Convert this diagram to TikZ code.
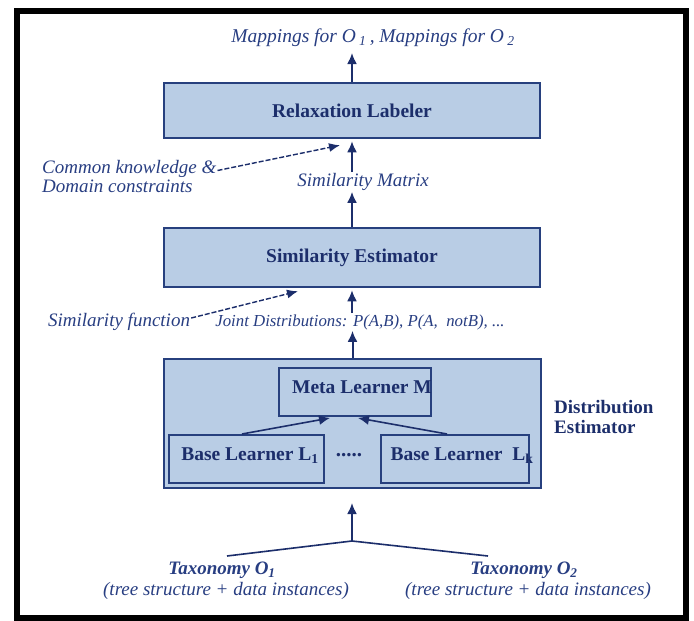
\documentclass[tikz,border=0pt]{standalone}
\usepackage{fontspec}
\setmainfont{Liberation Serif}
\usetikzlibrary{arrows.meta}
\definecolor{navy}{RGB}{28,46,107}
\definecolor{itnavy}{RGB}{40,62,130}
\definecolor{boxfill}{RGB}{185,205,229}
\definecolor{boxline}{RGB}{39,64,126}
\begin{document}
\begin{tikzpicture}[x=1pt,y=-1pt,
  bigbox/.style={draw=boxline, line width=2.5pt, fill=boxfill, inner sep=0pt},
  smallbox/.style={draw=boxline, line width=2pt, fill=boxfill, inner sep=0pt},
  blabel/.style={text=navy, font=\fontsize{19.5}{21}\selectfont\bfseries, inner sep=0pt},
  ilabel/.style={text=itnavy, font=\fontsize{19}{19}\selectfont\itshape, inner sep=1pt},
  tlabel/.style={text=itnavy, font=\fontsize{19}{19}\selectfont\itshape, inner sep=0pt},
  arr/.style={draw=navy, line width=2pt, -{Latex[length=11pt,width=10pt]}},
  darr/.style={draw=navy, line width=1.4pt, dash pattern=on 5pt off 2pt, -{Latex[length=11pt,width=9pt]}},
  plainline/.style={draw=navy, line width=1.6pt}]
\useasboundingbox (0,0) rectangle (694,621);
\fill[white] (0,0) rectangle (694,621);
% frame
\draw[black, line width=6pt] (16.5,11) rectangle (686,618);

% top output
\node[ilabel, font=\fontsize{19.5}{19.5}\selectfont\itshape] (map) at (373,38) {Mappings for O\,\textsubscript{1}\,, Mappings for O\,\textsubscript{2}};
\coordinate (mapin) at (352,53);

% relaxation labeler
\node[bigbox, minimum width=376pt, minimum height=55pt] (relax) at (352,110.5) {};
\node[blabel] (relaxT) at (352,111) {Relaxation Labeler};
\draw[arr] (relax.north) -- (mapin);

% common knowledge
\node[ilabel, align=left, anchor=west] (ck) at (41,176.5) {Common knowledge \&\\Domain constraints};
\draw[darr] ([yshift=6pt]ck.east) -- ([xshift=-12pt,yshift=-6pt]relax.south);

% similarity matrix
\node[ilabel] (sm) at (363,182) {Similarity Matrix};
\draw[arr] (sm.north -| relax.south) -- ([yshift=-2pt]relax.south);

% similarity estimator
\node[bigbox, minimum width=376pt, minimum height=59pt] (simest) at (352,257.5) {};
\node[blabel] (simestT) at (352,258) {Similarity Estimator};
\draw[arr] (simest.north) -- (sm.south -| simest.north);

% similarity function / joint distributions
\node[ilabel] (sf) at (119,322) {Similarity function};
\node[ilabel, font=\fontsize{16.8}{17}\selectfont\itshape] (jd) at (360,322) {Joint Distributions: P(A,B), P(A,\ \ notB), ...};
\draw[darr] ([yshift=4pt]sf.east) -- ([xshift=-54pt,yshift=-3pt]simest.south);
\draw[arr] (jd.north -| simest.south) -- ([yshift=-2pt]simest.south);

% distribution estimator
\node[bigbox, minimum width=377pt, minimum height=129pt] (de) at (352.5,423.5) {};
\draw[arr] (de.north) -- (jd.south -| de.north);
\node[smallbox, minimum width=152pt, minimum height=48pt] (meta) at (355,392) {};
\node[blabel] (metaT) at (362,387) {Meta Learner M};
\node[smallbox, minimum width=155pt, minimum height=48pt] (b1) at (246.5,459) {};
\node[blabel] (b1T) at (250,456) {Base Learner L\textsubscript{1}};
\node[smallbox, minimum width=148pt, minimum height=48pt] (bk) at (455,459) {};
\node[blabel] (bkT) at (462,456) {Base Learner\ \ L\textsubscript{k}};
\node[blabel, font=\fontsize{21}{21}\selectfont\bfseries] (dots) at (349,455) {.....};
\draw[arr, line width=1.6pt] ([xshift=-4.5pt]b1.north) -- ([xshift=-25pt,yshift=-1pt]meta.south);
\draw[arr, line width=1.6pt] ([xshift=-8pt]bk.north) -- ([xshift=3pt,yshift=-1pt]meta.south);
\node[blabel, align=left, anchor=west, font=\fontsize{19}{20}\selectfont\bfseries] (deT) at (554,417) {Distribution\\Estimator};

% taxonomies
\node[tlabel, font=\fontsize{19}{19}\selectfont\bfseries\itshape] (t1) at (222,570) {Taxonomy O\textsubscript{1}};
\node[tlabel] (t1b) at (226,591) {(tree structure + data instances)};
\node[tlabel, font=\fontsize{19}{19}\selectfont\bfseries\itshape] (t2) at (524,570) {Taxonomy O\textsubscript{2}};
\node[tlabel] (t2b) at (528,591) {(tree structure + data instances)};
\coordinate (jn) at (352,541);
\coordinate (l1) at (227,556);
\coordinate (l2) at (488,556);
\coordinate (tipD) at (352,503);
\draw[plainline] (l1) -- (jn) -- (l2);
\draw[arr] (jn) -- (tipD);
\end{tikzpicture}
\end{document}
